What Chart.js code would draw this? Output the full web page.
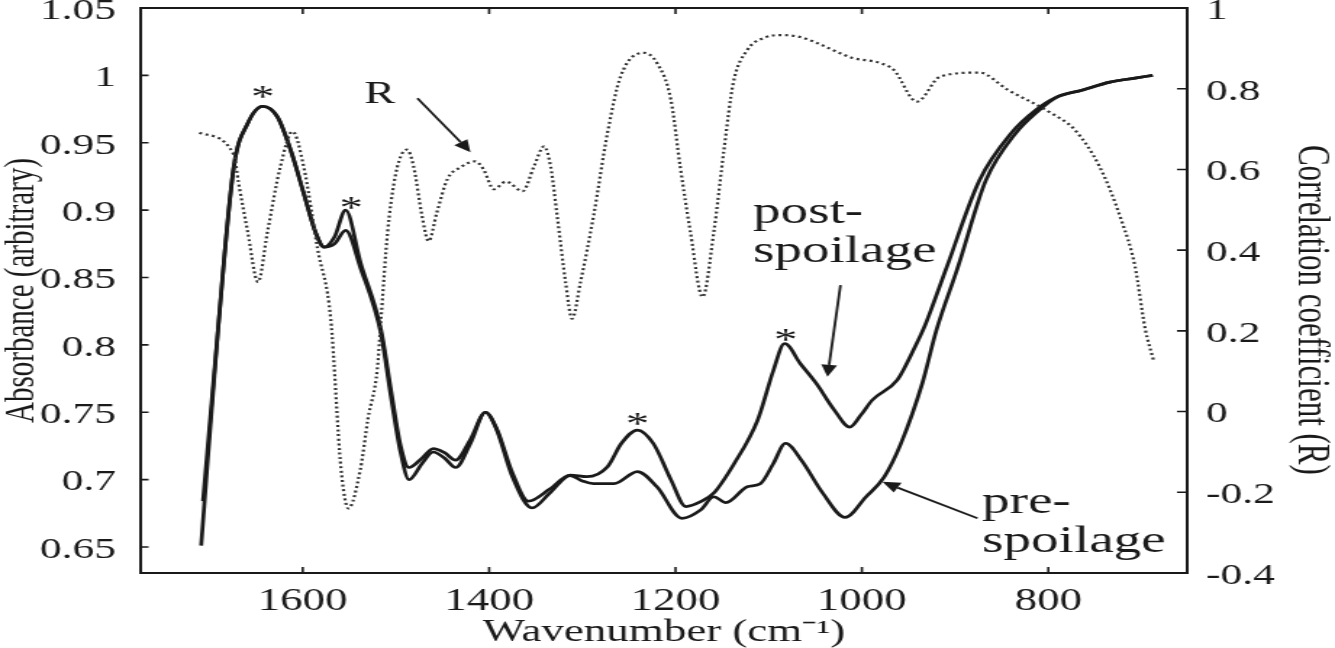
<!DOCTYPE html>
<html>
<head>
<meta charset="utf-8">
<script src="https://cdn.jsdelivr.net/npm/chart.js@4.4.1/dist/chart.umd.min.js"></script>
<style>
  html, body { margin: 0; padding: 0; background: #fff; overflow: hidden; }
  /* the original figure is stretched sideways, so the whole canvas is too */
  #wrap { width: 921px; height: 648px; transform: scaleX(1.44951); transform-origin: 0 0; }
</style>
</head>
<body>
<div id="wrap"><canvas id="spectra" width="921" height="648"></canvas></div>
<script>
// ticks
const xTicks = [1600, 1400, 1200, 1000, 800];
const absTicks = [1.05, 1, 0.95, 0.9, 0.85, 0.8, 0.75, 0.7, 0.65];
const rTicks = [1, 0.8, 0.6, 0.4, 0.2, 0, -0.2, -0.4];

// post-spoilage spectrum
const postWn = [1707, 1691, 1674, 1659, 1643, 1627, 1613, 1599, 1586, 1577,
  1566, 1554, 1538, 1516, 1505, 1495, 1486, 1472, 1460, 1448,
  1436, 1420, 1404, 1392, 1375, 1358, 1335, 1313, 1295, 1273,
  1258, 1241, 1224, 1205, 1189, 1173, 1159, 1137, 1112, 1095,
  1083, 1066, 1049, 1030, 1013, 1001, 989, 962, 943, 932,
  909, 874, 840, 814, 791, 764, 734, 707, 688];
const postAbs = [0.684, 0.811, 0.932, 0.9645, 0.977, 0.969, 0.9445, 0.9126, 0.883, 0.8725,
  0.880, 0.900, 0.861, 0.811, 0.765, 0.725, 0.709, 0.716, 0.723, 0.720,
  0.7145, 0.730, 0.750, 0.738, 0.705, 0.684, 0.693, 0.7034, 0.7022, 0.7096,
  0.727, 0.7368, 0.727, 0.700, 0.680, 0.6836, 0.690, 0.712, 0.744, 0.781,
  0.801, 0.786, 0.7714, 0.752, 0.739, 0.748, 0.759, 0.774, 0.7986, 0.815,
  0.8577, 0.922, 0.957, 0.974, 0.9838, 0.989, 0.995, 0.998, 1.0];

// pre-spoilage spectrum
const preWn = [1709, 1691, 1674, 1659, 1643, 1627, 1613, 1599, 1586, 1577,
  1566, 1554, 1538, 1516, 1505, 1495, 1486, 1472, 1460, 1448,
  1436, 1420, 1404, 1392, 1375, 1354, 1335, 1313, 1300, 1288,
  1266, 1241, 1220, 1193, 1173, 1159, 1146, 1123, 1109, 1095,
  1082, 1065, 1042, 1018, 996, 976, 958, 935, 920, 897,
  867, 835, 810, 791, 764, 734, 707, 688];
const preAbs = [0.651, 0.811, 0.932, 0.9645, 0.977, 0.969, 0.9445, 0.9126, 0.883, 0.8725,
  0.875, 0.885, 0.857, 0.808, 0.760, 0.720, 0.700, 0.712, 0.7205, 0.716,
  0.709, 0.727, 0.750, 0.737, 0.702, 0.679, 0.690, 0.703, 0.699, 0.697,
  0.697, 0.706, 0.6947, 0.6713, 0.6775, 0.6873, 0.6829, 0.6947, 0.697, 0.712,
  0.727, 0.7145, 0.690, 0.672, 0.687, 0.702, 0.727, 0.772, 0.811, 0.8577,
  0.922, 0.957, 0.974, 0.9838, 0.989, 0.995, 0.998, 1.0];

// correlation coefficient R (right axis)
const rWn = [1711, 1674, 1669, 1659, 1648, 1638, 1624, 1611, 1599, 1584,
  1570, 1559, 1551, 1538, 1530, 1520, 1516, 1509, 1502, 1495,
  1488, 1481, 1472, 1465, 1456, 1445, 1431, 1415, 1406, 1395,
  1382, 1364, 1352, 1341, 1334, 1327, 1318, 1311, 1302, 1288,
  1273, 1259, 1234, 1220, 1205, 1195, 1184, 1171, 1159, 1148,
  1138, 1123, 1105, 1087, 1066, 1049, 1011, 981, 966, 941,
  916, 874, 844, 798, 772, 745, 722, 707, 696, 687];
const rVal = [0.691, 0.637, 0.568, 0.444, 0.321, 0.444, 0.607, 0.694, 0.607, 0.402,
  0.230, -0.141, -0.240, -0.141, -0.017, 0.106, 0.230, 0.444, 0.568, 0.632,
  0.649, 0.607, 0.484, 0.422, 0.494, 0.575, 0.605, 0.620, 0.600, 0.551,
  0.570, 0.546, 0.607, 0.657, 0.607, 0.484, 0.321, 0.230, 0.321, 0.484,
  0.691, 0.830, 0.889, 0.864, 0.773, 0.607, 0.444, 0.284, 0.444, 0.649,
  0.815, 0.896, 0.926, 0.933, 0.928, 0.914, 0.877, 0.864, 0.847, 0.768,
  0.830, 0.840, 0.798, 0.741, 0.699, 0.607, 0.477, 0.360, 0.205, 0.126];

// peak markers (*)
const starWn = [1643, 1548, 1241, 1082];
const starAbs = [0.989, 0.907, 0.7464, 0.8088];

const ink = '#1a1a1a';
const serif = "'Liberation Serif', 'Times New Roman', serif";

// labels and arrows, placed in data units (wavenumber, absorbance)
const notes = [
  { text: 'R', wn: 1534, abs: 0.9794, size: 32 },
  { text: 'post-', wn: 1117, abs: 0.8904, size: 38 },
  { text: 'spoilage', wn: 1117, abs: 0.8614, size: 38 },
  { text: 'pre-', wn: 871, abs: 0.6752, size: 38 },
  { text: 'spoilage', wn: 871, abs: 0.6465, size: 38 }
];
const arrows = [
  { from: [1477, 0.9831], to: [1420, 0.943] },
  { from: [1023, 0.8444], to: [1037, 0.7763] },
  { from: [876, 0.6713], to: [978, 0.6984] }
];

const toPoints = (xs, ys) => xs.map((x, i) => ({ x: x, y: ys[i] }));

const frame = {
  id: 'frame',
  afterDatasetsDraw(chart) {
    const { ctx, chartArea: a, scales } = chart;
    const sx = scales.x, sy = scales.y, sr = scales.yR;
    ctx.save();
    ctx.strokeStyle = ink;
    ctx.fillStyle = ink;

    // box
    ctx.lineWidth = 2;
    ctx.strokeRect(a.left, a.top, a.right - a.left, a.bottom - a.top);

    // inward ticks
    ctx.lineWidth = 1.6;
    ctx.beginPath();
    xTicks.forEach(v => {
      const px = sx.getPixelForValue(v);
      ctx.moveTo(px, a.bottom); ctx.lineTo(px, a.bottom - 6);
      ctx.moveTo(px, a.top); ctx.lineTo(px, a.top + 6);
    });
    absTicks.forEach(v => {
      const py = sy.getPixelForValue(v);
      ctx.moveTo(a.left, py); ctx.lineTo(a.left + 5.5, py);
    });
    rTicks.forEach(v => {
      const py = sr.getPixelForValue(v);
      ctx.moveTo(a.right, py); ctx.lineTo(a.right - 7, py);
    });
    ctx.stroke();

    // stars over the marked peaks
    ctx.font = '32px ' + serif;
    ctx.textAlign = 'center';
    ctx.textBaseline = 'alphabetic';
    starWn.forEach((w, i) => {
      ctx.fillText('*', sx.getPixelForValue(w), sy.getPixelForValue(starAbs[i]) + 17);
    });

    // text labels
    ctx.textAlign = 'left';
    notes.forEach(n => {
      ctx.font = n.size + 'px ' + serif;
      ctx.fillText(n.text, sx.getPixelForValue(n.wn), sy.getPixelForValue(n.abs));
    });

    // arrows
    ctx.lineWidth = 1.8;
    arrows.forEach(ar => {
      const x1 = sx.getPixelForValue(ar.from[0]), y1 = sy.getPixelForValue(ar.from[1]);
      const x2 = sx.getPixelForValue(ar.to[0]), y2 = sy.getPixelForValue(ar.to[1]);
      const ang = Math.atan2(y2 - y1, x2 - x1);
      const len = 12, half = 5.5;
      const bx = x2 - len * Math.cos(ang), by = y2 - len * Math.sin(ang);
      ctx.beginPath();
      ctx.moveTo(x1, y1); ctx.lineTo(bx, by);
      ctx.stroke();
      ctx.beginPath();
      ctx.moveTo(x2, y2);
      ctx.lineTo(bx + half * Math.sin(ang), by - half * Math.cos(ang));
      ctx.lineTo(bx - half * Math.sin(ang), by + half * Math.cos(ang));
      ctx.closePath();
      ctx.fill();
    });
    ctx.restore();
  }
};

new Chart(document.getElementById('spectra'), {
  type: 'line',
  data: {
    datasets: [
      {
        label: 'R',
        data: toPoints(rWn, rVal),
        yAxisID: 'yR',
        borderColor: '#333',
        borderWidth: 2.2,
        borderDash: [2, 2.6],
        pointRadius: 0,
        cubicInterpolationMode: 'monotone',
        fill: false
      },
      {
        label: 'pre-spoilage',
        data: toPoints(preWn, preAbs),
        yAxisID: 'y',
        borderColor: ink,
        borderWidth: 2.7,
        pointRadius: 0,
        cubicInterpolationMode: 'monotone',
        fill: false
      },
      {
        label: 'post-spoilage',
        data: toPoints(postWn, postAbs),
        yAxisID: 'y',
        borderColor: ink,
        borderWidth: 2.7,
        pointRadius: 0,
        cubicInterpolationMode: 'monotone',
        fill: false
      }
    ]
  },
  options: {
    responsive: false,
    animation: false,
    layout: { padding: { top: 8, left: 0, right: 0, bottom: 0 } },
    plugins: { legend: { display: false }, tooltip: { enabled: false } },
    scales: {
      x: {
        type: 'linear',
        position: 'bottom',
        reverse: true,
        min: 651,
        max: 1774,
        afterBuildTicks: s => { s.ticks = xTicks.map(v => ({ value: v })); },
        afterFit: s => { s.height = 75; s.paddingLeft = 0; s.paddingRight = 0; },
        grid: { display: false },
        border: { display: false },
        ticks: { font: { family: serif, size: 31 }, color: ink, padding: 2, maxRotation: 0, autoSkip: false, callback: v => String(v) },
        title: { display: true, text: 'Wavenumber (cm⁻¹)', color: ink, font: { family: serif, size: 31, lineHeight: 1 }, padding: 0 }
      },
      y: {
        type: 'linear',
        position: 'left',
        min: 0.6307,
        max: 1.05,
        afterBuildTicks: s => { s.ticks = absTicks.map(v => ({ value: v })); },
        afterFit: s => { s.width = 97; s.paddingTop = 0; s.paddingBottom = 0; },
        grid: { display: false },
        border: { display: false },
        ticks: { font: { family: serif, size: 30 }, color: ink, padding: 9, labelOffset: 3, autoSkip: false, callback: v => String(v) },
        title: { display: true, text: 'Absorbance (arbitrary)', color: ink, font: { family: serif, size: 29, lineHeight: 1 }, padding: { top: 1, bottom: 0 } }
      },
      yR: {
        type: 'linear',
        position: 'right',
        min: -0.4,
        max: 1,
        afterBuildTicks: s => { s.ticks = rTicks.map(v => ({ value: v })); },
        afterFit: s => { s.width = 102; s.paddingTop = 0; s.paddingBottom = 0; },
        grid: { display: false },
        border: { display: false },
        ticks: { font: { family: serif, size: 30 }, color: ink, padding: 5, labelOffset: 3, autoSkip: false, callback: v => String(v) },
        // leading spaces push the title a little below the middle, as in the figure
        title: { display: true, text: '     Correlation coefficient (R)', color: ink, font: { family: serif, size: 31, lineHeight: 1 }, padding: { top: 1, bottom: 0 } }
      }
    }
  },
  plugins: [frame]
});
</script>
</body>
</html>
